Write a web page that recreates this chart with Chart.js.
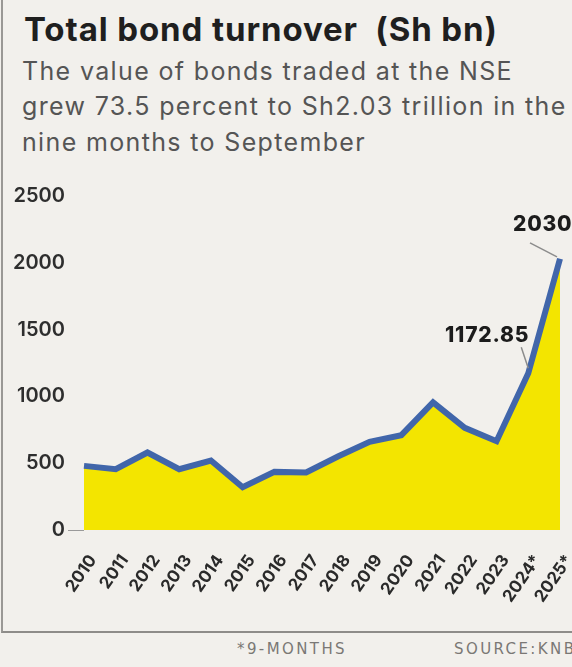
<!DOCTYPE html>
<html>
<head>
<meta charset="utf-8">
<script src="https://cdn.jsdelivr.net/npm/chart.js@4.4.1/dist/chart.umd.min.js"></script>
<style>
  html, body { margin: 0; padding: 0; background: #f2f0ec; }
  body { width: 572px; height: 667px; position: relative; overflow: hidden; font-family: Inter, "Open Sans", sans-serif; }
  #frame { position: absolute; left: 1px; top: 0; width: 600px; height: 633px; border-left: 2px solid #9a9895; border-bottom: 2px solid #8e8c89; box-sizing: border-box; }
  #chart { position: absolute; left: 0; top: 0; }
  .title { position: absolute; left: 24px; top: 9px; font-size: 33px; font-weight: 700; color: #1f1f1f; white-space: nowrap; letter-spacing: 0.9px; }
  .sub { position: absolute; left: 22px; font-size: 25px; color: #555; white-space: nowrap; letter-spacing: 1.35px; }
  .foot { position: absolute; top: 640px; font-family: "DejaVu Sans", sans-serif; font-size: 15px; color: #7a7875; letter-spacing: 2.4px; white-space: nowrap; }
</style>
</head>
<body>
<div id="frame"></div>
<div class="title">Total bond turnover &nbsp;(Sh bn)</div>
<div class="sub" style="top:56px">The value of bonds traded at the NSE</div>
<div class="sub" style="top:91px">grew 73.5 percent to Sh2.03 trillion in the</div>
<div class="sub" style="top:127px">nine months to September</div>
<div class="foot" style="left:237px">*9-MONTHS</div>
<div class="foot" style="left:454px">SOURCE:KNBS</div>
<canvas id="chart" width="572" height="667"></canvas>
<script>
// Annual bond turnover on the NSE, Sh billion (2024 and 2025: nine months)
const years = ["2010", "2011", "2012", "2013", "2014", "2015", "2016", "2017",
               "2018", "2019", "2020", "2021", "2022", "2023", "2024*", "2025*"];
const turnover = [480, 455, 580, 455, 520, 320, 435, 430,
                  550, 660, 710, 955, 765, 665, 1172.85, 2030];
const yTicks = [0, 500, 1000, 1500, 2000, 2500];
// Values called out with a label and a short leader line
const callouts = [
  { index: 14, text: "1172.85" },
  { index: 15, text: "2030" }
];

const calloutPlugin = {
  id: "callouts",
  afterDatasetsDraw(chart) {
    const { ctx, scales: { x, y } } = chart;
    ctx.save();
    ctx.font = "800 21px Inter, sans-serif";
    ctx.letterSpacing = "0.8px";
    ctx.fillStyle = "#1c1c1c";
    ctx.textBaseline = "middle";
    callouts.forEach(c => {
      const px = x.getPixelForValue(c.index);
      const py = y.getPixelForValue(turnover[c.index]);
      ctx.strokeStyle = "#8c8c8c";
      ctx.lineWidth = 1.5;
      ctx.beginPath();
      if (c.index === 15) {
        ctx.textAlign = "left";
        ctx.fillText(c.text, px - 47, py - 34);
        ctx.moveTo(px - 30, py - 16);
        ctx.lineTo(px - 3, py - 2);
      } else {
        ctx.textAlign = "right";
        ctx.fillText(c.text, px + 1, py - 38);
        ctx.moveTo(px - 7, py - 26);
        ctx.lineTo(px, py - 5);
      }
      ctx.stroke();
    });
    ctx.restore();
  }
};

new Chart(document.getElementById("chart"), {
  type: "line",
  data: {
    labels: years,
    datasets: [{
      data: turnover,
      borderColor: "#4166aa",
      borderWidth: 6,
      backgroundColor: "#f3e500",
      fill: "origin",
      tension: 0,
      pointRadius: 0,
      borderJoinStyle: "miter"
    }]
  },
  options: {
    responsive: false,
    animation: false,
    layout: { padding: { top: 196, right: 12, bottom: 0, left: 0 } },
    plugins: { legend: { display: false }, tooltip: { enabled: false } },
    scales: {
      x: {
        offset: false,
        grid: { display: false },
        border: { display: false },
        ticks: {
          autoSkip: false,
          minRotation: 55,
          maxRotation: 55,
          padding: 13,
          labelOffset: 9,
          color: "#2a2a2a",
          font: { family: "Inter, sans-serif", size: 17, weight: "700" }
        },
        afterFit(scale) {
          scale.height = 137;
          scale.paddingLeft = 0;
          scale.paddingRight = 0;
        }
      },
      y: {
        min: 0,
        max: 2500,
        afterBuildTicks(scale) { scale.ticks = yTicks.map(v => ({ value: v })); },
        grid: {
          drawOnChartArea: false,
          drawTicks: true,
          tickLength: 16,
          color: ctx => (ctx.tick && ctx.tick.value === 0) ? "#9a9a9a" : "transparent"
        },
        border: { display: false },
        ticks: {
          padding: 3,
          color: "#2e2e2e",
          callback: v => String(v),
          font: { family: "Inter, sans-serif", size: 20, weight: "600" }
        },
        afterFit(scale) { scale.width = 84; }
      }
    }
  },
  plugins: [calloutPlugin]
});
</script>
</body>
</html>
